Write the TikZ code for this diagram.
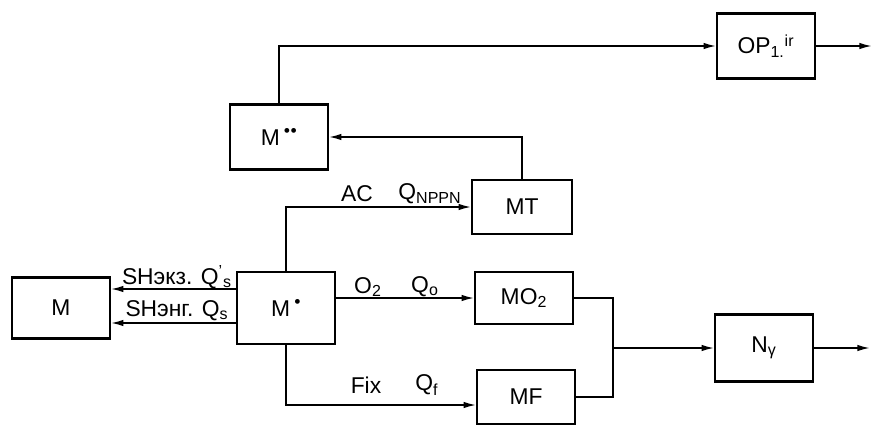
\documentclass[tikz,border=0pt]{standalone}
\usepackage{fontspec}
\setmainfont{Liberation Sans}
\usepackage{tikz}
\usetikzlibrary{arrows.meta,positioning,calc}
\newcommand{\dotup}{\raisebox{0.5em}{\fontsize{6pt}{6pt}\selectfont$\bullet$}}

\begin{document}
\begin{tikzpicture}[x=0.02cm,y=-0.02cm,
  box/.style={draw,line width=1.6pt,minimum width=1.96cm,
              font=\fontsize{13pt}{15pt}\selectfont,inner sep=2pt},
  arr/.style={-{Latex[length=2.4mm,width=1.3mm]},line width=0.7pt},
  lbl/.style={font=\fontsize{13pt}{15pt}\selectfont,inner sep=1pt}]
  \useasboundingbox (0,0) rectangle (875,426);
  \node[box,minimum height=1.22cm](m) at (61,308) {M};
  \node[box,minimum height=1.44cm](mp) at (286,308) {M\,\dotup};
  \node[box,minimum height=1.3cm](mpp) at (279,137) {M\,\dotup\dotup};
  \node[box,minimum height=1.08cm,minimum width=2cm](mt) at (522,207) {MT};
  \node[box,minimum height=1.3cm](op) at (766,46) {OP\textsubscript{1.}\textsuperscript{ir}};
  \node[box,minimum height=1.04cm](mo) at (524,298) {MO\textsubscript{2}};
  \node[box,minimum height=1.08cm](mf) at (526,397) {MF};
  \node[box,minimum height=1.34cm](ng) at (764,348) {N\textsubscript{γ}};
  \coordinate (j) at (613,348);
  % outputs of M'
  \draw[arr](mp.west |- 0,289)--(m.east |- 0,289);
  \draw[arr](mp.west |- 0,323)--(m.east |- 0,323);
  \draw[arr](mp.north)|-(mt.west);
  \draw[arr](mp.east |- mo.west)--(mo.west);
  \draw[arr](mp.south)|-([yshift=-0.16cm]mf.west);
  % upper chain
  \draw[arr](mt.north)|-(mpp.east);
  \draw[arr](mpp.north)|-(op.west);
  \draw[arr](op.east)--++(55,0);
  % merge
  \draw[line width=0.7pt](mo.east)-|(j);
  \draw[line width=0.7pt](mf.east)-|(j);
  \draw[arr](j)--(ng.west);
  \draw[arr](ng.east)--++(55,0);
  % labels
  \node[lbl](l1) at (177,277) {SHэкз. Q\textsuperscript{'}\textsubscript{s}};
  \node[lbl](l2) at (177,311) {SHэнг. Q\textsubscript{s}};
  \node[lbl](l3) at (357,194) {AC};
  \node[lbl](l4) at (430,194) {Q\textsubscript{NPPN}};
  \node[lbl](l5) at (368,287) {O\textsubscript{2}};
  \node[lbl](l6) at (425,287) {Q\textsubscript{o}};
  \node[lbl](l7) at (366,385) {Fix};
  \node[lbl](l8) at (427,385) {Q\textsubscript{f}};
\end{tikzpicture}
\end{document}
